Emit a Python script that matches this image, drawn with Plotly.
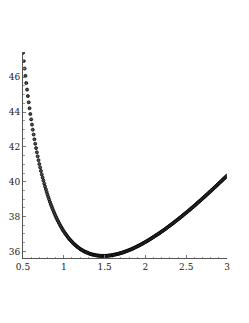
import plotly.graph_objects as go

# sample positions: x starts at 0.5, step 0.01, up to 3.0
X_START = 0.5
X_STEP = 0.01

Y_VALUES = [
    47.40, 46.94, 46.50, 46.08, 45.67, 45.29, 44.92, 44.56, 44.22, 43.89,
    43.58, 43.28, 42.99, 42.71, 42.44, 42.18, 41.93, 41.69, 41.46, 41.24,
    41.02, 40.82, 40.62, 40.42, 40.24, 40.07, 39.89, 39.73, 39.57, 39.41,
    39.26, 39.12, 38.98, 38.84, 38.71, 38.59, 38.47, 38.35, 38.24, 38.13,
    38.02, 37.92, 37.82, 37.73, 37.64, 37.55, 37.46, 37.38, 37.30, 37.22,
    37.15, 37.08, 37.01, 36.95, 36.88, 36.82, 36.76, 36.70, 36.65, 36.60,
    36.55, 36.50, 36.45, 36.41, 36.37, 36.32, 36.28, 36.25, 36.21, 36.18,
    36.14, 36.11, 36.08, 36.06, 36.03, 36.00, 35.98, 35.96, 35.94, 35.92,
    35.90, 35.88, 35.86, 35.85, 35.83, 35.82, 35.81, 35.80, 35.79, 35.78,
    35.77, 35.76, 35.76, 35.75, 35.75, 35.74, 35.74, 35.74, 35.74, 35.74,
    35.74, 35.74, 35.74, 35.75, 35.75, 35.76, 35.76, 35.77, 35.77, 35.78,
    35.79, 35.80, 35.81, 35.82, 35.83, 35.84, 35.85, 35.86, 35.88, 35.89,
    35.90, 35.92, 35.93, 35.95, 35.97, 35.98, 36.00, 36.02, 36.04, 36.05,
    36.07, 36.09, 36.11, 36.13, 36.15, 36.17, 36.20, 36.22, 36.24, 36.26,
    36.29, 36.31, 36.33, 36.36, 36.38, 36.41, 36.43, 36.46, 36.49, 36.51,
    36.54, 36.57, 36.59, 36.62, 36.65, 36.68, 36.71, 36.74, 36.77, 36.80,
    36.83, 36.86, 36.89, 36.92, 36.95, 36.98, 37.01, 37.04, 37.08, 37.11,
    37.14, 37.17, 37.21, 37.24, 37.27, 37.31, 37.34, 37.38, 37.41, 37.45,
    37.48, 37.52, 37.55, 37.59, 37.62, 37.66, 37.70, 37.73, 37.77, 37.81,
    37.84, 37.88, 37.92, 37.96, 37.99, 38.03, 38.07, 38.11, 38.15, 38.19,
    38.22, 38.26, 38.30, 38.34, 38.38, 38.42, 38.46, 38.50, 38.54, 38.58,
    38.62, 38.66, 38.70, 38.74, 38.79, 38.83, 38.87, 38.91, 38.95, 38.99,
    39.04, 39.08, 39.12, 39.16, 39.20, 39.25, 39.29, 39.33, 39.38, 39.42,
    39.46, 39.51, 39.55, 39.59, 39.64, 39.68, 39.72, 39.77, 39.81, 39.86,
    39.90, 39.95, 39.99, 40.03, 40.08, 40.12, 40.17, 40.21, 40.26, 40.30,
    40.35,
]

X_TICKS = [0.5, 1, 1.5, 2, 2.5, 3]
X_TICK_LABELS = ["0.5", "1", "1.5", "2", "2.5", "3"]
Y_TICKS = [36, 38, 40, 42, 44, 46]
Y_TICK_LABELS = ["36", "38", "40", "42", "44", "46"]

fig = go.Figure()
fig.add_trace(go.Scatter(
    x0=X_START, dx=X_STEP, y=Y_VALUES,
    mode="markers",
    marker=dict(symbol="circle", size=3.0, color="#555555",
                line=dict(width=0.8, color="#000000")),
    hoverinfo="skip", showlegend=False,
))

font = dict(family="DejaVu Serif", size=9, color="#222222")

fig.update_layout(
    width=241, height=315,
    margin=dict(l=15, r=22, t=44, b=65, autoexpand=False),
    paper_bgcolor="white", plot_bgcolor="white",
    font=font,
    xaxis=dict(
        range=[0.5, 3.0], tickvals=X_TICKS, ticktext=X_TICK_LABELS,
        automargin=False,
        showgrid=False, zeroline=False, showline=True, linecolor="#555555", linewidth=1,
        ticks="inside", ticklen=3, tickcolor="#777777", tickfont=font,
        minor=dict(ticks="inside", ticklen=1.5, dtick=0.1, tickcolor="#999999", showgrid=False),
    ),
    yaxis=dict(
        range=[35.62, 47.45], tickvals=Y_TICKS, ticktext=Y_TICK_LABELS,
        automargin=False,
        showgrid=False, zeroline=False, showline=True, linecolor="#555555", linewidth=1,
        ticks="inside", ticklen=3, tickcolor="#777777", tickfont=font,
        minor=dict(ticks="inside", ticklen=1.5, dtick=0.5, tickcolor="#999999", showgrid=False),
    ),
)

fig.write_html("out.html")
